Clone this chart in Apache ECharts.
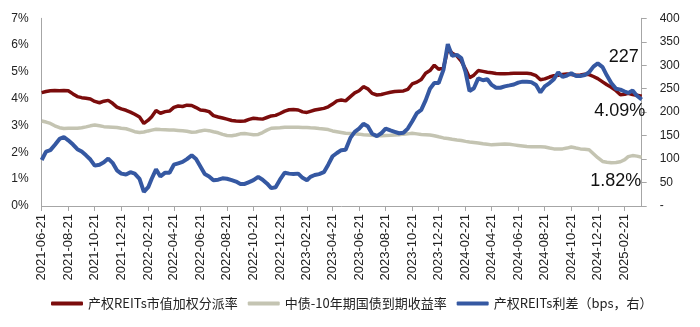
<!DOCTYPE html>
<html>
<head>
<meta charset="utf-8">
<script src="https://cdn.jsdelivr.net/npm/echarts@6/dist/echarts.min.js"></script>
<style>
html,body{margin:0;padding:0;background:#fff;}
#chart{width:700px;height:327px;}
</style>
</head>
<body>
<div id="chart"></div>
<script>
// ---- data ----
var dates = [
'2021-06-21','2021-07-01','2021-07-11','2021-07-21','2021-08-01','2021-08-11','2021-08-21','2021-09-01','2021-09-11','2021-09-21',
'2021-10-01','2021-10-11','2021-10-21','2021-11-01','2021-11-11','2021-11-21','2021-12-01','2021-12-11','2021-12-21',
'2022-01-01','2022-01-11','2022-01-21','2022-02-01','2022-02-11','2022-02-21','2022-03-01','2022-03-11','2022-03-21',
'2022-04-01','2022-04-11','2022-04-21','2022-05-01','2022-05-11','2022-05-21','2022-06-01','2022-06-11','2022-06-21',
'2022-07-01','2022-07-11','2022-07-21','2022-08-01','2022-08-11','2022-08-21','2022-09-01','2022-09-11','2022-09-21',
'2022-10-01','2022-10-11','2022-10-21','2022-11-01','2022-11-11','2022-11-21','2022-12-01','2022-12-11','2022-12-21',
'2023-01-01','2023-01-11','2023-01-21','2023-02-01','2023-02-11','2023-02-21','2023-03-01','2023-03-11','2023-03-21',
'2023-04-01','2023-04-11','2023-04-21','2023-05-01','2023-05-11','2023-05-21','2023-06-01','2023-06-11','2023-06-21',
'2023-07-01','2023-07-11','2023-07-21','2023-08-01','2023-08-11','2023-08-21','2023-09-01','2023-09-11','2023-09-21',
'2023-10-01','2023-10-11','2023-10-21','2023-11-01','2023-11-11','2023-11-21','2023-12-01','2023-12-11','2023-12-21',
'2024-01-01','2024-01-11','2024-01-21','2024-02-01','2024-02-11','2024-02-21','2024-03-01','2024-03-11','2024-03-21',
'2024-04-01','2024-04-11','2024-04-21','2024-05-01','2024-05-11','2024-05-21','2024-06-01','2024-06-11','2024-06-21',
'2024-07-01','2024-07-11','2024-07-21','2024-08-01','2024-08-11','2024-08-21','2024-09-01','2024-09-11','2024-09-21',
'2024-10-01','2024-10-11','2024-10-21','2024-11-01','2024-11-11','2024-11-21','2024-12-01','2024-12-11','2024-12-21',
'2025-01-01','2025-01-11','2025-01-21','2025-02-01','2025-02-11','2025-02-21','2025-03-01','2025-03-11','2025-03-21',
'2025-04-01'
];

// 产权REITs市值加权分派率 (%)
var reitYield = [
4.23,4.27,4.30,4.31,4.30,4.31,4.30,4.18,4.08,4.04,
4.02,3.99,3.90,3.85,3.91,3.94,3.83,3.69,3.62,
3.57,3.50,3.42,3.32,3.08,3.20,3.33,3.56,3.46,
3.52,3.54,3.68,3.73,3.71,3.76,3.75,3.67,3.58,
3.56,3.52,3.37,3.32,3.28,3.24,3.19,3.17,3.16,
3.17,3.23,3.27,3.25,3.24,3.30,3.36,3.38,3.45,
3.54,3.59,3.60,3.58,3.51,3.49,3.53,3.58,3.61,
3.64,3.70,3.80,3.92,3.95,3.92,4.08,4.22,4.30,
4.45,4.37,4.20,4.14,4.16,4.20,4.24,4.27,4.28,
4.29,4.35,4.55,4.62,4.72,4.95,5.05,5.25,5.10,
5.15,5.85,5.70,5.60,5.40,5.10,4.78,4.88,5.05,
5.02,4.99,4.97,4.94,4.93,4.93,4.94,4.95,4.95,
4.95,4.95,4.93,4.86,4.71,4.74,4.81,4.86,4.88,
4.90,4.92,4.90,4.88,4.89,4.91,4.90,4.83,4.75,
4.63,4.52,4.43,4.30,4.15,4.17,4.20,4.16,4.13,
4.09
];

// 中债-10年期国债到期收益率 (%)
var cgb10y = [
3.17,3.13,3.08,2.99,2.92,2.89,2.90,2.90,2.90,2.92,
2.95,2.99,3.02,2.99,2.96,2.95,2.94,2.93,2.90,
2.88,2.83,2.77,2.74,2.76,2.80,2.83,2.86,2.85,
2.84,2.83,2.83,2.82,2.81,2.79,2.75,2.76,2.80,
2.83,2.81,2.77,2.73,2.67,2.63,2.62,2.65,2.69,
2.70,2.68,2.66,2.67,2.74,2.83,2.90,2.91,2.92,
2.94,2.94,2.94,2.94,2.93,2.93,2.92,2.91,2.89,
2.87,2.85,2.80,2.77,2.74,2.71,2.70,2.69,2.68,
2.66,2.65,2.64,2.62,2.62,2.63,2.64,2.65,2.66,
2.68,2.69,2.71,2.69,2.67,2.66,2.65,2.62,2.58,
2.54,2.52,2.49,2.46,2.44,2.41,2.39,2.37,2.35,
2.32,2.30,2.28,2.29,2.30,2.31,2.30,2.28,2.26,
2.24,2.22,2.21,2.21,2.21,2.20,2.16,2.13,2.13,
2.13,2.16,2.20,2.16,2.13,2.12,2.10,1.95,1.80,
1.66,1.63,1.61,1.62,1.65,1.73,1.84,1.88,1.86,
1.82
];

// 产权REITs利差 (bps, right axis)
var spread = [
98,116,119,130,143,147,140,131,121,116,
108,99,86,88,93,101,92,76,69,
67,72,69,58,30,40,58,78,63,
71,71,88,91,94,100,108,100,84,
68,63,55,56,59,58,55,52,47,
47,51,55,62,56,48,38,40,56,
71,69,68,69,60,55,62,66,68,
72,88,106,113,119,120,145,158,165,
175,170,154,149,155,165,161,158,155,
156,165,180,198,205,225,250,262,262,
290,345,320,322,315,285,245,251,272,
268,270,258,252,252,255,257,259,263,
265,265,264,258,242,255,262,270,285,
275,278,283,277,277,279,285,297,304,
296,278,262,250,248,244,241,246,235,
227
];

// x-axis tick labels
var tickLabels = [
'2021-06-21','2021-08-21','2021-10-21','2021-12-21','2022-02-21','2022-04-21','2022-06-21','2022-08-21',
'2022-10-21','2022-12-21','2023-02-21','2023-04-21','2023-06-21','2023-08-21','2023-10-21','2023-12-21',
'2024-02-21','2024-04-21','2024-06-21','2024-08-21','2024-10-21','2024-12-21','2025-02-21'
];

var seriesNames = ['产权REITs市值加权分派率','中债-10年期国债到期收益率','产权REITs利差（bps，右）'];
var endLabels = ['4.09%','1.82%','227'];

// ---- build ----
function ts(s){ var p = s.split('-'); return Date.UTC(+p[0], +p[1]-1, +p[2]); }
function pad(n){ return n < 10 ? '0'+n : ''+n; }
function fmt(v){ var d = new Date(v); return d.getUTCFullYear()+'-'+pad(d.getUTCMonth()+1)+'-'+pad(d.getUTCDate()); }
function pairs(vals){ return dates.map(function(d,i){ return [ts(d), vals[i]]; }); }
var tickTs = tickLabels.map(ts);
var last = dates.length - 1;

var numFont = 'Liberation Sans, Arial, sans-serif';
var axisColor = '#A6A6A6';

function endMark(vals, text, offset){
  return {
    symbol: 'circle', symbolSize: 1, silent: true,
    itemStyle: {color: 'rgba(0,0,0,0)'},
    data: [{coord: [ts(dates[last]), vals[last]]}],
    label: {show: true, position: 'inside', formatter: text, offset: offset,
      fontFamily: numFont, fontSize: 18, color: '#111'}
  };
}

var chart = echarts.init(document.getElementById('chart'), null, {renderer:'canvas'});
chart.setOption({
  animation: false,
  backgroundColor: '#fff',
  grid: {left: 41.7, right: 58.3, top: 18.3, bottom: 121, containLabel: false},
  legend: {
    top: 292, left: 46,
    itemWidth: 32, itemHeight: 4, itemGap: 10,
    icon: 'roundRect',
    textStyle: {fontFamily: 'Noto Sans CJK SC, sans-serif', fontSize: 13, color: '#222'},
    data: seriesNames
  },
  xAxis: {
    type: 'value',
    min: ts(dates[0]), max: ts(dates[last]),
    axisLine: {show: true, lineStyle: {color: axisColor, width: 1}},
    axisTick: {show: true, length: 5, lineStyle: {color: axisColor}, customValues: tickTs},
    axisLabel: {
      customValues: tickTs, rotate: 90, margin: 8,
      fontFamily: numFont, fontSize: 13, color: '#222',
      formatter: function(v){ return fmt(v); }
    },
    splitLine: {show: false}
  },
  yAxis: [
    {
      type: 'value', min: 0, max: 7, interval: 1, position: 'left',
      axisLine: {show: true, lineStyle: {color: axisColor}},
      axisTick: {show: false},
      splitLine: {show: false},
      axisLabel: {fontFamily: numFont, fontSize: 12, color: '#222', margin: 13,
        formatter: function(v){ return v + '%'; }}
    },
    {
      type: 'value', min: 0, max: 400, interval: 50, position: 'right',
      axisLine: {show: true, lineStyle: {color: axisColor}},
      axisTick: {show: true, inside: false, length: 5, lineStyle: {color: axisColor}},
      splitLine: {show: false},
      axisLabel: {fontFamily: numFont, fontSize: 12, color: '#222', margin: 18, align: 'left',
        formatter: function(v){ return v === 0 ? '-' : '' + v; }}
    }
  ],
  series: [
    {
      name: seriesNames[0], type: 'line', yAxisIndex: 0, data: pairs(reitYield),
      showSymbol: false, symbol: 'none', z: 2,
      lineStyle: {color: '#7B0C0C', width: 3.5}, itemStyle: {color: '#7B0C0C'},
      markPoint: endMark(reitYield, endLabels[0], [-22, 15])
    },
    {
      name: seriesNames[1], type: 'line', yAxisIndex: 0, data: pairs(cgb10y),
      showSymbol: false, symbol: 'none', z: 3,
      lineStyle: {color: '#C4C4B2', width: 3.5}, itemStyle: {color: '#C4C4B2'},
      markPoint: endMark(cgb10y, endLabels[1], [-26, 24])
    },
    {
      name: seriesNames[2], type: 'line', yAxisIndex: 1, data: pairs(spread),
      showSymbol: false, symbol: 'none', z: 4,
      lineStyle: {color: '#3558A2', width: 4}, itemStyle: {color: '#3558A2'},
      markPoint: endMark(spread, endLabels[2], [-18, -42])
    }
  ]
});
</script>
</body>
</html>
